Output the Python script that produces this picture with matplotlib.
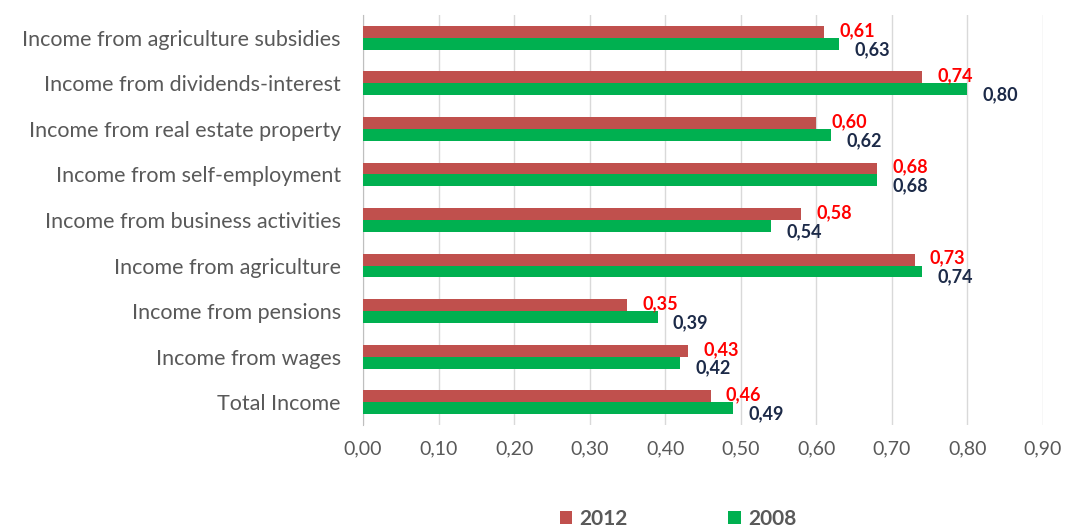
import numpy as np
import matplotlib
matplotlib.use("Agg")
import matplotlib.pyplot as plt

plt.rcParams["font.family"] = ["Lato", "DejaVu Sans"]

categories = [
    "Income from agriculture subsidies",
    "Income from dividends-interest",
    "Income from real estate property",
    "Income from self-employment",
    "Income from business activities",
    "Income from agriculture",
    "Income from pensions",
    "Income from wages",
    "Total Income",
]
vals_2012 = [0.61, 0.74, 0.60, 0.68, 0.58, 0.73, 0.35, 0.43, 0.46]
vals_2008 = [0.63, 0.80, 0.62, 0.68, 0.54, 0.74, 0.39, 0.42, 0.49]
xticks = [0.0, 0.1, 0.2, 0.3, 0.4, 0.5, 0.6, 0.7, 0.8, 0.9]

RED = "#C0504D"
GREEN = "#00B050"
NAVY = "#1C2A48"
GRAY = "#595959"

fig = plt.figure(figsize=(10.68, 5.29), dpi=100)
ax = fig.add_axes([363 / 1068, 1 - 425 / 529, (1043 - 363) / 1068, (425 - 15) / 529])

n = len(categories)
y = np.arange(n)[::-1]  # first category on top
h = 0.26

ax.barh(y + h / 2, vals_2012, height=h, color=RED, label="2012", zorder=3)
ax.barh(y - h / 2, vals_2008, height=h, color=GREEN, label="2008", zorder=3)

for yi, v in zip(y, vals_2012):
    ax.annotate(f"{v:.2f}".replace(".", ","), (v, yi + h / 2), xytext=(11, 1),
                textcoords="offset points", ha="left", va="center",
                fontsize=13, fontweight="bold", color="#FF0000", zorder=5)
for yi, v in zip(y, vals_2008):
    ax.annotate(f"{v:.2f}".replace(".", ","), (v, yi - h / 2), xytext=(11, -4),
                textcoords="offset points", ha="left", va="center",
                fontsize=13, fontweight="bold", color=NAVY, zorder=4)

ax.set_xlim(0, 0.9)
ax.set_ylim(-0.5, n - 0.5)
ax.set_xticks(xticks)
ax.set_xticklabels([f"{t:.2f}".replace(".", ",") for t in xticks],
                   fontsize=14, color=GRAY)
ax.set_yticks(y)
ax.set_yticklabels(categories, fontsize=15.5, color=GRAY)
ax.tick_params(axis="both", length=0)
ax.tick_params(axis="x", pad=11)
ax.tick_params(axis="y", pad=16)

ax.grid(axis="x", color="#D9D9D9", lw=1, zorder=0)
for name in ["top", "right", "bottom"]:
    ax.spines[name].set_visible(False)
ax.spines["left"].set_color("#BFBFBF")

leg = fig.legend(loc="center", bbox_to_anchor=(678 / 1068, 1 - 519 / 529), ncol=2,
                 frameon=False, handlelength=0.6, handleheight=0.6,
                 columnspacing=4.8, handletextpad=0.35,
                 prop={"size": 15, "weight": "bold"})
for t in leg.get_texts():
    t.set_color(GRAY)

fig.savefig("out.png", dpi=100)
